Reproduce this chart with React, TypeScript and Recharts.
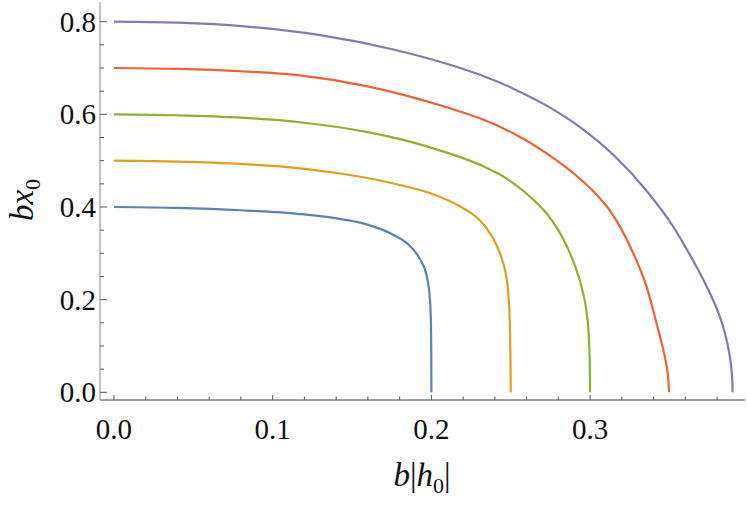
import { LineChart, Line, XAxis, YAxis } from "recharts";

// curves: b|h0| (x) vs b x0 (y), one per starting height
const blueX = [0, 0.04, 0.08, 0.1172, 0.1382, 0.1592, 0.176, 0.1865, 0.1928, 0.197, 0.1991, 0.1997, 0.1999, 0.19997, 0.2];
const blueY = [0.4, 0.398, 0.393, 0.3848, 0.3765, 0.3625, 0.34, 0.316, 0.2875, 0.252, 0.2, 0.15, 0.1, 0.05, 0];

const orangeX = [0, 0.04, 0.08, 0.1172, 0.1487, 0.1802, 0.2012, 0.218, 0.2245, 0.2306, 0.235, 0.239, 0.2425, 0.2453, 0.2472, 0.2484, 0.2493, 0.2497, 0.2499, 0.25];
const orangeY = [0.5, 0.498, 0.493, 0.4835, 0.469, 0.4474, 0.4275, 0.4015, 0.388, 0.371, 0.353, 0.332, 0.306, 0.278, 0.25, 0.215, 0.16, 0.1, 0.05, 0];

const greenX = [0, 0.04, 0.08, 0.117, 0.1592, 0.2012, 0.2327, 0.2432, 0.2537, 0.2632, 0.2726, 0.2789, 0.285, 0.2916, 0.295, 0.2979, 0.2992, 0.2998, 0.3];
const greenY = [0.6, 0.598, 0.593, 0.583, 0.562, 0.5266, 0.488, 0.47, 0.446, 0.419, 0.386, 0.356, 0.318, 0.262, 0.222, 0.17, 0.12, 0.06, 0];

const redX = [0, 0.04, 0.08, 0.117, 0.159, 0.2117, 0.2306, 0.2516, 0.2726, 0.2936, 0.3052, 0.311, 0.3167, 0.3272, 0.3356, 0.3424, 0.3458, 0.3475, 0.3487, 0.3494, 0.3497];
const redY = [0.7, 0.698, 0.693, 0.684, 0.661, 0.613, 0.5914, 0.559, 0.5158, 0.461, 0.4225, 0.399, 0.37, 0.3, 0.228, 0.1417, 0.096, 0.07, 0.045, 0.022, 0];

const purpleX = [0, 0.04, 0.0857, 0.13, 0.176, 0.2117, 0.2306, 0.2516, 0.2726, 0.2936, 0.3146, 0.3357, 0.3524, 0.3587, 0.3672, 0.3755, 0.381, 0.385, 0.3874, 0.3889, 0.3896, 0.3898];
const purpleY = [0.8, 0.798, 0.789, 0.771, 0.74, 0.707, 0.6853, 0.6555, 0.6188, 0.5726, 0.5127, 0.4346, 0.3574, 0.3216, 0.27, 0.2137, 0.17, 0.127, 0.09, 0.055, 0.025, 0];

const xTicks = [0, 0.02, 0.04, 0.06, 0.08, 0.1, 0.12, 0.14, 0.16, 0.18, 0.2, 0.22, 0.24, 0.26, 0.28, 0.3, 0.32, 0.34, 0.36, 0.38];
const xLabels = [0, 0.1, 0.2, 0.3];
const yTicks = [0, 0.05, 0.1, 0.15, 0.2, 0.25, 0.3, 0.35, 0.4, 0.45, 0.5, 0.55, 0.6, 0.65, 0.7, 0.75, 0.8];
const yLabels = [0, 0.2, 0.4, 0.6, 0.8];

const zip = (xs: number[], ys: number[]) => xs.map((x, i) => ({ x, y: ys[i] }));

const series = [
  { name: "blue", color: "#5E81B5", data: zip(blueX, blueY) },
  { name: "orange", color: "#E19C24", data: zip(orangeX, orangeY) },
  { name: "green", color: "#8FB032", data: zip(greenX, greenY) },
  { name: "red", color: "#EB6235", data: zip(redX, redY) },
  { name: "purple", color: "#8778B3", data: zip(purpleX, purpleY) },
];

const W = 747;
const H = 507;
const LEFT = 100;
const TOP = 2;
const RIGHT = 745;
const BOTTOM = 400;
const FONT = "'Liberation Serif', 'DejaVu Serif', serif";
const TICK = "#555";

const isMajor = (v: number, list: number[]) => list.some((m) => Math.abs(m - v) < 1e-6);

function BottomTick(props: any) {
  const { x, payload } = props;
  const major = isMajor(payload.value, xLabels);
  return (
    <g>
      <line x1={x} x2={x} y1={BOTTOM} y2={BOTTOM - (major ? 5 : 3.5)} stroke={TICK} />
      {major && (
        <text x={x} y={439} textAnchor="middle" fontFamily={FONT} fontSize={29} fill="#111">
          {payload.value.toFixed(1)}
        </text>
      )}
    </g>
  );
}

function TopTick(props: any) {
  const { x, payload } = props;
  const major = isMajor(payload.value, xLabels);
  return <line x1={x} x2={x} y1={TOP} y2={TOP + (major ? 5 : 3)} stroke={TICK} />;
}

function LeftTick(props: any) {
  const { y, payload } = props;
  const major = isMajor(payload.value, yLabels);
  return (
    <g>
      <line x1={LEFT} x2={LEFT + (major ? 7 : 4)} y1={y} y2={y} stroke={TICK} />
      {major && (
        <text x={96} y={y} dy="0.34em" textAnchor="end" fontFamily={FONT} fontSize={29} fill="#111">
          {payload.value.toFixed(1)}
        </text>
      )}
    </g>
  );
}

function RightTick(props: any) {
  const { y, payload } = props;
  const major = isMajor(payload.value, yLabels);
  return <line x1={RIGHT} x2={RIGHT - (major ? 5 : 3)} y1={y} y2={y} stroke={TICK} />;
}

export default function App() {
  return (
    <div style={{ position: "relative", width: W, height: H }}>
      <style>{`body{margin:0}`}</style>
      <LineChart width={W} height={H} margin={{ top: TOP, right: W - RIGHT, left: 0, bottom: 0 }}>
        <XAxis
          xAxisId="b"
          dataKey="x"
          type="number"
          domain={[-0.0088, 0.3976]}
          allowDataOverflow
          ticks={xTicks}
          interval={0}
          tick={<BottomTick />}
          tickLine={false}
          axisLine={{ stroke: "#444" }}
          height={H - BOTTOM}
        />
        <XAxis
          xAxisId="t"
          orientation="top"
          dataKey="x"
          type="number"
          domain={[-0.0088, 0.3976]}
          allowDataOverflow
          ticks={xTicks}
          interval={0}
          tick={<TopTick />}
          tickLine={false}
          axisLine={{ stroke: "#888" }}
          height={0}
        />
        <YAxis
          yAxisId="l"
          type="number"
          domain={[-0.0166, 0.8425]}
          allowDataOverflow
          ticks={yTicks}
          interval={0}
          tick={<LeftTick />}
          tickLine={false}
          axisLine={{ stroke: "#888" }}
          width={LEFT}
        />
        <YAxis
          yAxisId="r"
          orientation="right"
          type="number"
          domain={[-0.0166, 0.8425]}
          allowDataOverflow
          ticks={yTicks}
          interval={0}
          tick={<RightTick />}
          tickLine={false}
          axisLine={{ stroke: "#444" }}
          width={0}
        />
        {series.map((s) => (
          <Line
            key={s.name}
            xAxisId="b"
            yAxisId="l"
            data={s.data}
            dataKey="y"
            type="monotone"
            stroke={s.color}
            strokeWidth={2.2}
            dot={false}
            activeDot={false}
            isAnimationActive={false}
          />
        ))}
      </LineChart>
      <div
        style={{
          position: "absolute",
          left: 25,
          top: 200,
          transform: "translate(-50%, -50%) rotate(-90deg)",
          fontFamily: FONT,
          fontSize: 33,
          whiteSpace: "nowrap",
          color: "#111",
        }}
      >
        <i>bx</i>
        <sub style={{ fontSize: 22 }}>0</sub>
      </div>
      <div
        style={{
          position: "absolute",
          left: 422,
          top: 478,
          transform: "translate(-50%, -50%)",
          fontFamily: FONT,
          fontSize: 33,
          whiteSpace: "nowrap",
          color: "#111",
        }}
      >
        <i>b</i>|<i>h</i>
        <sub style={{ fontSize: 22 }}>0</sub>|
      </div>
    </div>
  );
}
